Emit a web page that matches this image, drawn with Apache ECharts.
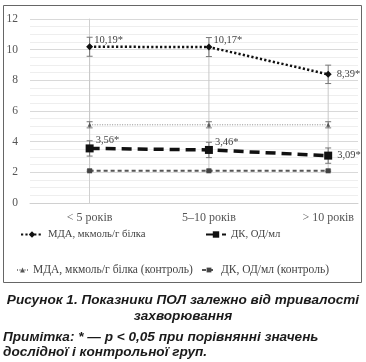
<!DOCTYPE html>
<html>
<head>
<meta charset="utf-8">
<script src="https://cdn.jsdelivr.net/npm/echarts@6/dist/echarts.min.js"></script>
<style>
html,body{margin:0;padding:0;background:#fff;}
#c{width:366px;height:362px;}
</style>
</head>
<body>
<div id="c"></div>
<script>
const categories = ['< 5 років', '5–10 років', '> 10 років'];
const mda = [10.19, 10.17, 8.39];
const dk = [3.56, 3.46, 3.09];
const mdaCtrl = [5.1, 5.1, 5.1];
const dkCtrl = [2.1, 2.1, 2.1];
const mdaErr = [0.62, 0.62, 0.6];
const dkErr = [0.5, 0.5, 0.5];
const mdaCtrlErr = [0.2, 0.2, 0.2];
const dkCtrlErr = [0.05, 0.05, 0.05];
const mdaLabels = ['10,19*', '10,17*', '8,39*'];
const dkLabels = ['3,56*', '3,46*', '3,09*'];
const names = ['МДА, мкмоль/г білка', 'ДК, ОД/мл', 'МДА, мкмоль/г білка (контроль)', 'ДК, ОД/мл (контроль)'];

const serif = 'Liberation Serif';
const chart = echarts.init(document.getElementById('c'));

function pts(arr){ return arr.map((v,i)=>[i,v]); }
function errData(vals, errs){ return vals.map((v,i)=>[i, v-errs[i], v+errs[i]]); }
function errSeries(vals, errs, color){
  return {
    type:'custom', silent:true, z:3,
    data: errData(vals, errs),
    renderItem: function(params, api){
      const x = api.value(0);
      const lo = api.coord([x, api.value(1)]);
      const hi = api.coord([x, api.value(2)]);
      const w = 3;
      const st = {stroke: color, lineWidth: 1};
      return {type:'group', children:[
        {type:'line', shape:{x1:lo[0], y1:lo[1], x2:hi[0], y2:hi[1]}, style:st},
        {type:'line', shape:{x1:lo[0]-w, y1:lo[1], x2:lo[0]+w, y2:lo[1]}, style:st},
        {type:'line', shape:{x1:hi[0]-w, y1:hi[1], x2:hi[0]+w, y2:hi[1]}, style:st}
      ]};
    }
  };
}
const hiLo = categories.map((c,i)=>{
  const all=[mda[i],dk[i],mdaCtrl[i],dkCtrl[i]];
  return [i, Math.min.apply(null,all), Math.max.apply(null,all)];
});

const labelStyle = {show:true, fontFamily: serif, fontSize: 10.5, color:'#444'};
const capFont = 'italic bold 13.6px "Liberation Sans"';

const option = {
  animation:false,
  grid:{left:30, right:8, top:19, bottom:159},
  xAxis:{
    type:'value', min:-0.5, max:2.25,
    axisLine:{show:true, lineStyle:{color:'#d0d0d0'}},
    axisTick:{show:false},
    splitLine:{show:false},
    axisLabel:{customValues:[0,1,2], formatter: v => categories[Math.round(v)], fontFamily: serif, fontSize: 12, color:'#555', margin:9}
  },
  yAxis:{
    type:'value', min:0, max:12, interval:2,
    axisLine:{show:true, lineStyle:{color:'#d0d0d0'}},
    axisTick:{show:false},
    axisLabel:{fontFamily: serif, fontSize: 11.5, color:'#555', margin:12},
    splitLine:{lineStyle:{color:'#d9d9d9'}},
    minorTick:{show:false, splitNumber:4},
    minorSplitLine:{show:true, lineStyle:{color:'#eeeeee'}}
  },
  legend:[
    {data:[names[0]], left:20, top:229, padding:0, itemWidth:22, itemHeight:8, textStyle:{fontFamily:serif, fontSize:10.7, color:'#444'}},
    {data:[names[1]], left:205, top:229, padding:0, itemWidth:20, itemHeight:8, textStyle:{fontFamily:serif, fontSize:10.7, color:'#444'}},
    {data:[names[2]], left:16, top:264, padding:0, itemWidth:11, itemHeight:6, textStyle:{fontFamily:serif, fontSize:11.5, color:'#444'}},
    {data:[names[3]], left:201, top:264, padding:0, itemWidth:14, itemHeight:6, textStyle:{fontFamily:serif, fontSize:11.5, color:'#444'}}
  ],
  graphic:[
    {type:'rect', shape:{x:3.5, y:5.5, width:358, height:277}, style:{fill:'none', stroke:'#666', lineWidth:1}, z:-1},
    {type:'text', left:'center', top:293, style:{text:'Рисунок 1. Показники ПОЛ залежно від тривалості', font:capFont, fill:'#1a1a1a'}},
    {type:'text', left:'center', top:309, style:{text:'захворювання', font:capFont, fill:'#1a1a1a'}},
    {type:'text', left:3, top:330, style:{text:'Примітка: * — p < 0,05 при порівнянні значень', font:capFont, fill:'#1a1a1a'}},
    {type:'text', left:3, top:345, style:{text:'дослідної і контрольної груп.', font:capFont, fill:'#1a1a1a'}}
  ],
  series:[
    {
      type:'custom', silent:true, z:1, data: hiLo,
      renderItem: function(params, api){
        const x = api.value(0);
        const lo = api.coord([x, api.value(1)]);
        const hi = api.coord([x, api.value(2)]);
        return {type:'line', shape:{x1:lo[0], y1:lo[1], x2:hi[0], y2:hi[1]}, style:{stroke:'#c8c8c8', lineWidth:1}};
      }
    },
    errSeries(mda, mdaErr, '#777'),
    errSeries(dk, dkErr, '#777'),
    errSeries(mdaCtrl, mdaCtrlErr, '#777'),
    errSeries(dkCtrl, dkCtrlErr, '#777'),
    {
      name:names[0], type:'line', z:5,
      symbol:'diamond', symbolSize:7, color:'#111',
      itemStyle:{color:'#111'},
      lineStyle:{color:'#111', width:2.5, type:[2.2,2.2]},
      label: Object.assign({}, labelStyle, {position:'right', formatter: p => mdaLabels[p.dataIndex]}),
      data: pts(mda).map((d,i)=>({value:d, label: i<2 ? {position:'right', offset:[-4,-7]} : {position:'right', offset:[0,0]}}))
    },
    {
      name:names[1], type:'line', z:5,
      symbol:'rect', symbolSize:8, color:'#111',
      itemStyle:{color:'#111'},
      lineStyle:{color:'#111', width:3.5, type:[10,6]},
      label: Object.assign({}, labelStyle, {position:'right', formatter: p => dkLabels[p.dataIndex]}),
      data: pts(dk).map((d,i)=>({value:d, label: i<2 ? {position:'right', offset:[-3,-8]} : {position:'right', offset:[0,0]}}))
    },
    {
      name:names[2], type:'line', z:4, data: pts(mdaCtrl),
      symbol:'triangle', symbolSize:4, color:'#666',
      itemStyle:{color:'#555'},
      lineStyle:{color:'#888', width:1, type:[1,1.5]}
    },
    {
      name:names[3], type:'line', z:4, data: pts(dkCtrl),
      symbol:'rect', symbolSize:5, color:'#444',
      itemStyle:{color:'#444'},
      lineStyle:{color:'#555', width:2, type:[4,3]}
    }
  ]
};
chart.setOption(option);
</script>
</body>
</html>
